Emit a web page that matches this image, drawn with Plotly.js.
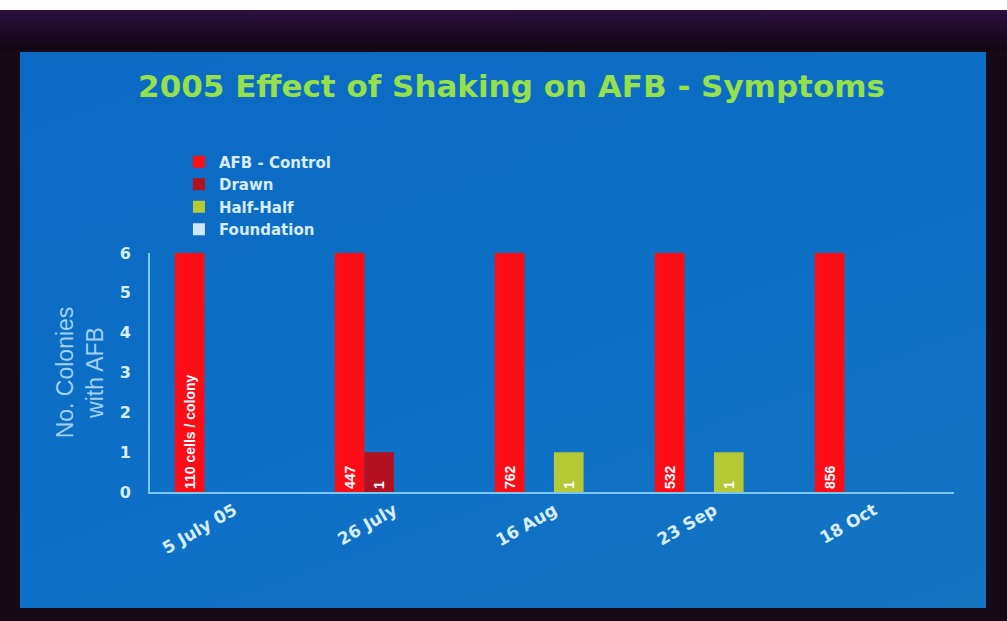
<!DOCTYPE html>
<html>
<head>
<meta charset="utf-8">
<script src="https://cdn.plot.ly/plotly-3.0.1.min.js"></script>
<style>
  html, body { margin: 0; padding: 0; width: 1007px; height: 621px; overflow: hidden; background: #150a16; }
  #topstrip { position: absolute; left: 0; top: 0; width: 1007px; height: 10px; background: #ffffff; }
  #band { position: absolute; left: 0; top: 10px; width: 1007px; height: 40px; background: linear-gradient(#2a1040, #120610); }
  #slide { position: absolute; left: 20px; top: 52px; width: 966px; height: 556px; background: linear-gradient(160deg, #0b6ac4 0%, #0e70c6 60%, #1474c2 100%); }
  #chart { position: absolute; left: 0; top: 0; width: 1007px; height: 621px; }
</style>
</head>
<body>
<div id="topstrip"></div>
<div id="band"></div>
<div id="slide"></div>
<div id="chart"></div>
<script>
const dates = ['5 July 05', '26 July', '16 Aug', '23 Sep', '18 Oct'];
const control = [6, 6, 6, 6, 6];
const controlLabels = ['110 cells / colony', '447', '762', '532', '856'];
const drawn = [0, 1, 0, 0, 0];
const drawnLabels = ['', '1', '', '', ''];
const halfHalf = [0, 0, 1, 1, 0];
const halfHalfLabels = ['', '', '1', '1', ''];
const foundation = [0, 0, 0, 0, 0];
const foundationLabels = ['', '', '', '', ''];
const yTicks = [0, 1, 2, 3, 4, 5, 6];

const txtFont = {family: 'Liberation Sans, Arial, sans-serif', size: 14, color: '#ffffff', weight: 'bold'};
function barTrace(name, y, labels, color) {
  return {
    type: 'bar', name: name, x: dates, y: y, text: labels,
    textposition: 'inside', insidetextanchor: 'start', textangle: -90,
    textfont: txtFont, insidetextfont: txtFont,
    marker: {color: color}, hoverinfo: 'x+y+name'
  };
}

const data = [
  barTrace('AFB - Control', control, controlLabels, '#ff0d17'),
  barTrace('Drawn', drawn, drawnLabels, '#b3111f'),
  barTrace('Half-Half', halfHalf, halfHalfLabels, '#b5c934'),
  barTrace('Foundation', foundation, foundationLabels, '#cde8ff')
];

const layout = {
  width: 1007, height: 621,
  paper_bgcolor: 'rgba(0,0,0,0)', plot_bgcolor: 'rgba(0,0,0,0)',
  margin: {l: 150, r: 53, t: 253, b: 129},
  barmode: 'group', bargap: 0.26, bargroupgap: 0,
  title: {
    text: '2005 Effect of Shaking on AFB - Symptoms',
    font: {family: 'DejaVu Sans, sans-serif', size: 31, color: '#96e04c', weight: 'bold'},
    x: 0.508, xanchor: 'center', y: 0.862, yanchor: 'middle', yref: 'container'
  },
  showlegend: true,
  legend: {
    x: 0.036, xanchor: 'left', y: 1.45, yanchor: 'top',
    bgcolor: 'rgba(0,0,0,0)', traceorder: 'normal',
    font: {family: 'DejaVu Sans, sans-serif', size: 15, color: '#d6ecff', weight: 'bold'},
    itemsizing: 'constant', tracegroupgap: 0
  },
  xaxis: {
    type: 'category', range: [-0.525, 4.5],
    showline: true, linecolor: '#7cc6f2', linewidth: 2,
    showgrid: false, zeroline: false, ticks: '',
    tickangle: -30,
    tickfont: {family: 'DejaVu Sans, sans-serif', size: 17, color: '#d6eeff', weight: 'bold'}
  },
  yaxis: {
    range: [0, 6], tickvals: yTicks,
    showline: true, linecolor: '#7cc6f2', linewidth: 2,
    showgrid: false, zeroline: false, ticks: '',
    ticklabelstandoff: 14,
    tickfont: {family: 'DejaVu Sans, sans-serif', size: 16, color: '#d6eeff', weight: 'bold'},
    title: {
      text: 'No. Colonies<br>with AFB',
      font: {family: 'Liberation Sans, Arial, sans-serif', size: 23, color: '#9fd2f4'},
      standoff: 10
    }
  }
};

Plotly.newPlot('chart', data, layout, {displayModeBar: false, staticPlot: true});
</script>
</body>
</html>
